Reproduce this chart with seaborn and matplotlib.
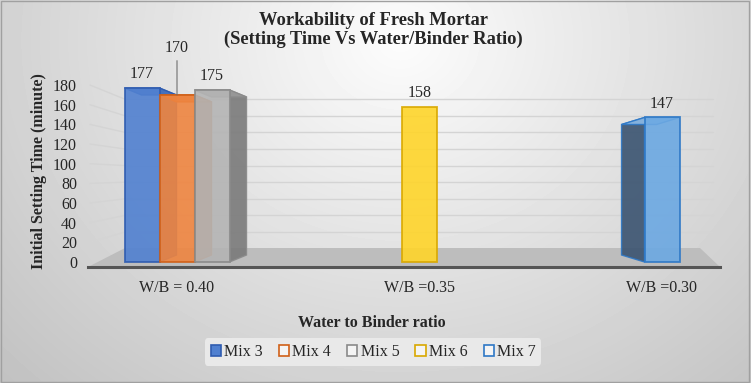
import numpy as np
import pandas as pd
import seaborn as sns
import matplotlib
matplotlib.use("Agg")
import matplotlib.pyplot as plt
from matplotlib.patches import Polygon, Patch
from matplotlib.lines import Line2D

# ---- data ----
categories = ["W/B = 0.40", "W/B =0.35", "W/B =0.30"]
mixes = ["Mix 3", "Mix 4", "Mix 5", "Mix 6", "Mix 7"]
mix_category = ["W/B = 0.40", "W/B = 0.40", "W/B = 0.40", "W/B =0.35", "W/B =0.30"]
setting_time = [177, 170, 175, 158, 147]
y_ticks = [0, 20, 40, 60, 80, 100, 120, 140, 160, 180]

# ---- styles ----
face_colors = {"Mix 3": "#5080d0", "Mix 4": "#ef8540", "Mix 5": "#b4b4b4",
               "Mix 6": "#ffd52a", "Mix 7": "#6ba8e2"}
edge_colors = {"Mix 3": "#2f5cb0", "Mix 4": "#d06018", "Mix 5": "#8a8a8a",
               "Mix 6": "#d9a800", "Mix 7": "#2e78c6"}
side_colors = {"Mix 3": "#3f66b0", "Mix 4": "#c86a30", "Mix 5": "#7a7a7a",
               "Mix 6": "#d9b020", "Mix 7": "#3a5370"}
top_colors = {"Mix 3": "#4670bd", "Mix 4": "#d8763a", "Mix 5": "#9a9a9a",
              "Mix 6": "#e8c020", "Mix 7": "#8cbbe8"}

df = pd.DataFrame({"wb": mix_category, "mix": mixes, "time": setting_time})

sns.set_theme(style="white")
plt.rcParams['font.family'] = ['Liberation Serif', 'DejaVu Serif']

W, H = 751, 383
fig = plt.figure(figsize=(W / 100, H / 100), dpi=100)


def fpt(x, y):
    """pixel (from top-left) -> figure fraction"""
    return (x / W, 1 - y / H)


# gradient background
bg = fig.add_axes([0, 0, 1, 1], zorder=-10)
yy, xx = np.mgrid[0:H, 0:W]
d = np.sqrt(((xx - 400) / 480.0) ** 2 + ((yy - 40) / 420.0) ** 2)
val = np.clip(0.99 - 0.20 * d, 0, 1)
bg.imshow(val, cmap='gray', vmin=0, vmax=1, extent=[0, 1, 0, 1],
          aspect='auto', origin='upper', interpolation='bilinear')
bg.add_patch(plt.Rectangle((0.001, 0.002), 0.997, 0.995, fill=False,
                           edgecolor='#a0a0a0', lw=1, transform=bg.transAxes))
bg.set_xlim(0, 1); bg.set_ylim(0, 1)
bg.axis('off')

# 3D-ish walls: floor slab + back-wall / side-wall gridlines
floor = [fpt(88, 267), fpt(720, 267), fpt(700, 248), fpt(125, 248)]
bg.add_patch(Polygon(floor, closed=True, transform=fig.transFigure,
                     facecolor='#bdbdbd', edgecolor='none', zorder=1))

# main axes geometry (pixels)
ax_l, ax_r, ax_b, ax_t = 88, 720, 267, 75
zero_px = 262.0
px_per_unit = 0.983
cat0_px, x_px_per_cat = 177.0, 242.5

ax = fig.add_axes([ax_l / W, (H - ax_b) / H, (ax_r - ax_l) / W, (ax_b - ax_t) / H])
ax.patch.set_alpha(0)

grp1 = df[df["wb"] == categories[0]]
grp2 = df[df["wb"] != categories[0]]
bar_w = 35 / x_px_per_cat
sns.barplot(data=grp1, x="wb", y="time", hue="mix", order=categories,
            hue_order=mixes[:3], palette=face_colors, dodge=True, width=3 * bar_w,
            saturation=1, ax=ax, legend=False, zorder=3)
sns.barplot(data=grp2, x="wb", y="time", hue="mix", order=categories,
            hue_order=mixes[3:], palette=face_colors, dodge=False, width=bar_w,
            saturation=1, ax=ax, legend=False, zorder=3)

ax.set_ylim(-(ax_b - zero_px) / px_per_unit, (zero_px - ax_t) / px_per_unit)
ax.set_xlim((ax_l - cat0_px) / x_px_per_cat, (ax_r - cat0_px) / x_px_per_cat)
ax.set_yticks(y_ticks)
ax.set_yticklabels([str(t) for t in y_ticks], fontsize=11.5)
ax.tick_params(axis='y', length=0, pad=8)
ax.tick_params(axis='x', length=0, pad=9, labelsize=11.5)
ax.set_xlabel("")
ax.set_ylabel("Initial Setting Time (minute)", fontsize=11.5, fontweight='bold', labelpad=4)
ax.grid(False)
for s in ["left", "right", "top"]:
    ax.spines[s].set_visible(False)
ax.spines["bottom"].set_color("#555555")
ax.spines["bottom"].set_linewidth(2.2)
ax.spines["bottom"].set_zorder(6)

# gridlines drawn for each tick on the back wall, with a receding segment on the side wall
for t in y_ticks[1:]:
    y_front = zero_px - px_per_unit * t
    y_back = 248.6 - 0.83 * t
    xa, ya = fpt(125, y_back)
    xb, yb = fpt(713, y_back)
    bg.add_line(Line2D([xa, xb], [ya, yb], transform=fig.transFigure,
                       color='#d4d4d4', lw=1, zorder=2))
    xc, yc = fpt(90, y_front)
    bg.add_line(Line2D([xc, xa], [yc, ya], transform=fig.transFigure,
                       color='#d4d4d4', lw=1, zorder=2))

# bars: colour, edges, pseudo-3D faces, labels
bars = [p for p in ax.patches if isinstance(p, matplotlib.patches.Rectangle)
        and np.isfinite(p.get_height()) and p.get_height() > 0 and p.get_zorder() >= 3]
depth = 17 / x_px_per_cat
up = 7 / px_per_unit
dn = 7 / px_per_unit
for p in bars:
    h = p.get_height()
    idx = setting_time.index(int(round(h)))
    m = mixes[idx]
    p.set_facecolor(face_colors[m])
    p.set_alpha(0.9)
    p.set_edgecolor(edge_colors[m])
    p.set_linewidth(1.3)
    bx, bw = p.get_x(), p.get_width()
    cx = bx + bw / 2
    if cx < 0.7:
        xs = bx + bw
        side = [(xs, 0), (xs + depth, up), (xs + depth, h - dn), (xs, h)]
        top = [(bx, h), (xs, h), (xs + depth, h - dn), (bx + depth, h - dn)]
    elif cx > 1.3:
        dd = depth * 1.35
        side = [(bx, 0), (bx - dd, up), (bx - dd, h - dn), (bx, h)]
        top = [(bx, h), (bx + bw, h), (bx + bw - dd, h - dn), (bx - dd, h - dn)]
    else:
        side = top = None
    if side is not None:
        ax.add_patch(Polygon(side, closed=True, facecolor=side_colors[m], alpha=0.9,
                             edgecolor=edge_colors[m], lw=1, zorder=2.5))
        ax.add_patch(Polygon(top, closed=True, facecolor=top_colors[m], alpha=0.9,
                             edgecolor=edge_colors[m], lw=1, zorder=2.6))
    if m == "Mix 4":
        ax.annotate(str(setting_time[idx]), xy=(cx, h), xytext=(0, 28),
                    textcoords='offset points', ha='center', va='bottom', fontsize=11.5,
                    arrowprops=dict(arrowstyle='-', color='#707070', lw=0.8,
                                    shrinkA=1, shrinkB=0))
    else:
        ax.annotate(str(setting_time[idx]), xy=(cx, h), xytext=(0, 4),
                    textcoords='offset points', ha='center', va='bottom', fontsize=11.5)

# title, x label, legend
fig.text(0.497, 1 - 12 / H, "Workability of Fresh Mortar\n(Setting Time Vs Water/Binder Ratio)",
         ha='center', va='top', fontsize=13.3, fontweight='bold', linespacing=1.15)
fig.text(0.495, 1 - 323 / H, "Water to Binder ratio", ha='center', va='center',
         fontsize=11.5, fontweight='bold')

handles = []
for i, m in enumerate(mixes):
    fc = face_colors[m] if i == 0 else '#f4f4f4'
    handles.append(Patch(facecolor=fc, edgecolor=edge_colors[m], lw=1.2, label=m))
leg = fig.legend(handles=handles, loc='center', bbox_to_anchor=(0.497, 1 - 352 / H), ncol=5,
                 frameon=True, fontsize=11.5, handlelength=0.65, handleheight=0.65,
                 handletextpad=0.2, columnspacing=1.0, borderpad=0.35)
leg.get_frame().set_facecolor('#e9e9e9')
leg.get_frame().set_edgecolor('none')
leg.get_frame().set_alpha(1)

fig.savefig("out.png", dpi=100)
